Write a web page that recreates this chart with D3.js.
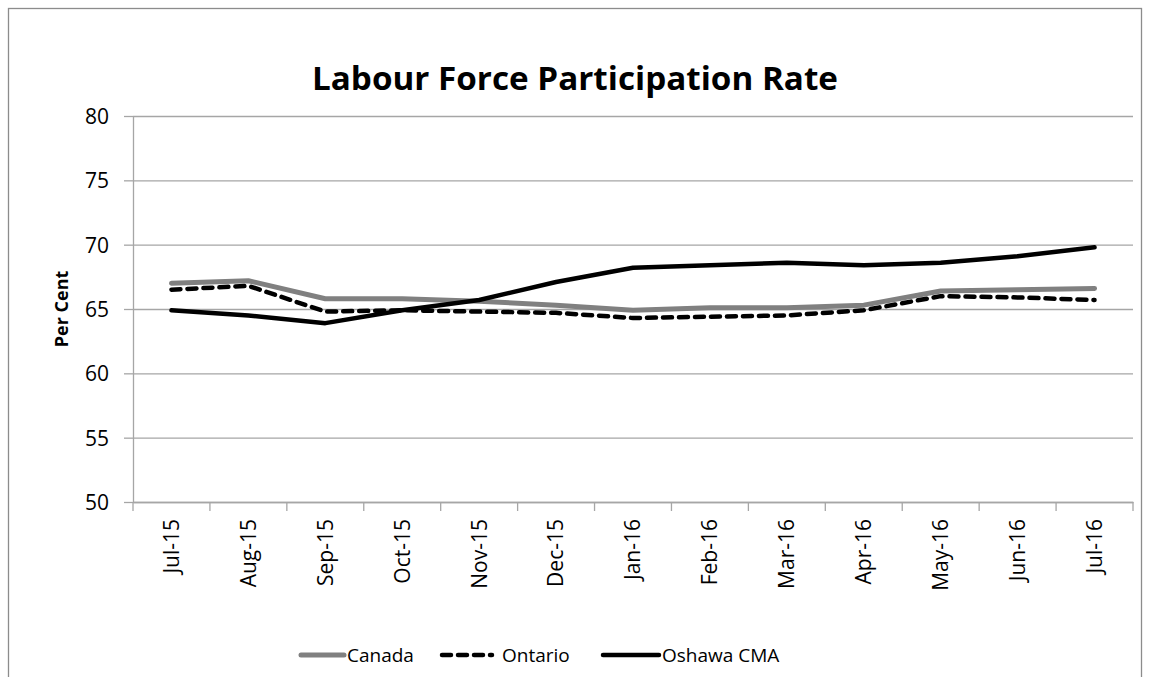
<!DOCTYPE html>
<html>
<head>
<meta charset="utf-8">
<script src="https://cdn.jsdelivr.net/npm/d3@7"></script>
<style>
    body { margin: 0; background: #fff; }
    svg { display: block; font-family: 'Open Sans', 'Noto Sans', sans-serif; }
    .grid line { stroke: #a6a6a6; stroke-width: 1.3; }
    .grid path { stroke: none; }
    .axis path, .axis line { stroke: #a6a6a6; stroke-width: 1.3; }
    .axis text { fill: #000; font-size: 21px; font-family: 'Open Sans', 'Noto Sans', sans-serif; }
</style>
</head>
<body>
<svg id="chart"></svg>
<script>
//data
var months = ['Jul-15', 'Aug-15', 'Sep-15', 'Oct-15', 'Nov-15', 'Dec-15', 'Jan-16',
              'Feb-16', 'Mar-16', 'Apr-16', 'May-16', 'Jun-16', 'Jul-16'];
var canada = [67.0, 67.2, 65.8, 65.8, 65.6, 65.3, 64.9, 65.1, 65.1, 65.3, 66.4, 66.5, 66.6];
var ontario = [66.5, 66.8, 64.8, 64.9, 64.8, 64.7, 64.3, 64.4, 64.5, 64.9, 66.0, 65.9, 65.7];
var oshawa = [64.9, 64.5, 63.9, 64.9, 65.7, 67.1, 68.2, 68.4, 68.6, 68.4, 68.6, 69.1, 69.8];
var yTicks = [50, 55, 60, 65, 70, 75, 80];

var series = [
    {name: 'Canada', values: canada, color: '#808080', width: 5, dash: null},
    {name: 'Ontario', values: ontario, color: '#000', width: 4.5, dash: '9,7'},
    {name: 'Oshawa CMA', values: oshawa, color: '#000', width: 4.5, dash: null}
];

//chart parameters
var svg = d3.select('#chart')
    .attr('width', 1150)
    .attr('height', 677);

var margin = {top: 116, right: 17, bottom: 175, left: 133},
    width = 1150 - margin.left - margin.right,
    height = 677 - margin.top - margin.bottom;

//outer chart border
svg.append('rect')
    .attr('x', 8.5).attr('y', 8.5)
    .attr('width', 1133).attr('height', 700)
    .attr('fill', 'none')
    .attr('stroke', '#8c8c8c')
    .attr('stroke-width', 1.3);

//title
svg.append('text')
    .attr('x', 575)
    .attr('y', 90)
    .attr('text-anchor', 'middle')
    .style('font-size', '33px')
    .style('font-weight', 'bold')
    .attr('textLength', 526)
    .attr('lengthAdjust', 'spacingAndGlyphs')
    .text('Labour Force Participation Rate');

//scales
var xScale = d3.scaleBand().domain(months).range([0, width]);
var yScale = d3.scaleLinear().domain([50, 80]).range([height, 0]);

var canvas = svg.append('g')
    .attr('transform', 'translate(' + margin.left + ',' + margin.top + ')');

//y gridlines
canvas.append('g')
    .attr('class', 'grid')
    .call(d3.axisLeft(yScale).tickValues(yTicks).tickSize(-width).tickFormat(''));

//y axis
canvas.append('g')
    .attr('class', 'axis axis-y')
    .call(d3.axisLeft(yScale).tickValues(yTicks).tickSize(9).tickSizeOuter(0).tickPadding(15))
    .selectAll('text').attr('dy', '0.35em');

//y axis label
canvas.append('text')
    .attr('transform', 'rotate(-90) translate(' + (-height / 2) + ',' + (-65) + ')')
    .attr('text-anchor', 'middle')
    .style('font-size', '18px')
    .style('font-weight', 'bold')
    .text('Per Cent');

//x axis
var xAxis = canvas.append('g')
    .attr('class', 'axis axis-x')
    .attr('transform', 'translate(0,' + height + ')')
    .call(d3.axisBottom(xScale).tickSize(0).tickSizeOuter(0));

xAxis.selectAll('.tick text')
    .attr('transform', 'rotate(-90)')
    .attr('text-anchor', 'end')
    .attr('x', -17)
    .attr('y', 0)
    .attr('dy', '0.35em');

//x tick marks at category boundaries
xAxis.selectAll('.bound')
    .data(months.concat(['end']))
    .enter().append('line')
        .attr('class', 'bound')
        .attr('x1', (d, i) => i * xScale.step())
        .attr('x2', (d, i) => i * xScale.step())
        .attr('y1', 0)
        .attr('y2', 9);

//lines
var line = d3.line()
    .x((d, i) => xScale(months[i]) + xScale.bandwidth() / 2)
    .y(d => yScale(d));

canvas.selectAll('.series')
    .data(series)
    .enter().append('path')
        .attr('class', 'series')
        .attr('d', d => line(d.values))
        .attr('fill', 'none')
        .attr('stroke', d => d.color)
        .attr('stroke-width', d => d.width)
        .attr('stroke-dasharray', d => d.dash)
        .attr('stroke-linecap', 'round')
        .attr('stroke-linejoin', 'round');

//legend
var legendX = [301, 442, 603],
    legendLen = [43, 50, 56];

var legend = svg.selectAll('.legend')
    .data(series)
    .enter().append('g')
        .attr('class', 'legend')
        .attr('transform', (d, i) => 'translate(' + legendX[i] + ',655)');

legend.append('line')
    .attr('x1', 0)
    .attr('x2', (d, i) => legendLen[i])
    .attr('stroke', d => d.color)
    .attr('stroke-width', d => d.width)
    .attr('stroke-dasharray', d => d.dash)
    .attr('stroke-linecap', 'round');

legend.append('text')
    .attr('x', (d, i) => legendLen[i] + (i == 1 ? 10 : 3))
    .attr('dy', '0.35em')
    .style('font-size', '19px')
    .text(d => d.name);
</script>
</body>
</html>
